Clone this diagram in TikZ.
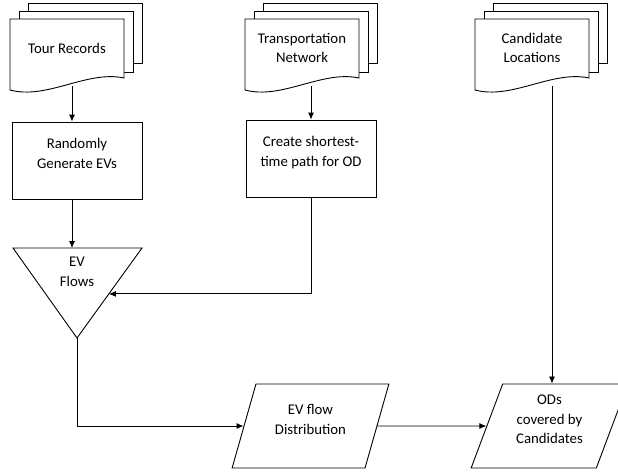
\documentclass[tikz,border=0pt]{standalone}
\usepackage{fontspec}
\setmainfont{Carlito}
\usetikzlibrary{shapes.geometric,arrows.meta,calc}

\begin{document}
\begin{tikzpicture}[x=1pt,y=-1pt,
                line width=0.9pt,
                font=\fontsize{14.8}{19.5}\selectfont,
                doc/.style = {align=center, minimum width=114pt, minimum height=76pt, inner sep=0pt},
                proc/.style = {draw, align=center, minimum width=130pt, minimum height=77pt,
                               inner sep=0pt, text depth=14pt},
                io/.style = {draw, trapezium, trapezium left angle=70, trapezium right angle=110,
                             trapezium stretches, align=center, minimum width=157pt,
                             minimum height=84pt, inner sep=0pt, text depth=13pt},
                arr/.style = {-{Latex[length=7pt,width=6pt]}}
            ]
            \useasboundingbox (0,0) rectangle (618,474);
            % stacked documents
            \foreach \cx in {67,302,532} {
                \begin{scope}[shift={(\cx,48)}]
                    \draw[fill=white] (-39,-45) rectangle (75,15);
                    \draw[fill=white] (-48,-37) rectangle (66,24);
                    \draw[fill=white] (-57,-29) -- (57,-29) -- (57,30)
                        .. controls (20,22) and (-20,52) .. (-57,42) -- cycle;
                \end{scope}
            }
            \node[doc] (tour) at (67,48) {Tour Records};
            \node[doc] (net) at (302,48) {Transportation\\Network};
            \node[doc] (cand) at (532,48) {Candidate\\Locations};

            \node[proc] (rand) at (77,160.5) {Randomly\\Generate EVs};
            \node[proc] (path) at (311,158.5) {Create shortest-\\time path for OD};

            % merge triangle
            \coordinate (fl-l) at (13,248);
            \coordinate (fl-r) at (142,248);
            \coordinate (fl-apex) at (77,338);
            \draw (fl-l) -- (fl-r) -- (fl-apex) -- cycle;
            \node[align=center, inner sep=0pt] (flows) at (77,272) {EV\\Flows};
            \coordinate (fl-in) at ($(fl-r)!0.51!(fl-apex)$);

            \node[io] (dist) at (310.5,426) {EV flow\\Distribution};
            \node[io] (ods) at (549.5,426) {ODs\\covered by\\Candidates};

            \draw[arr] ([xshift=5pt]tour.south) -- ([xshift=-5pt]rand.north);
            \draw[arr] ([xshift=-5pt]rand.south) -- ([xshift=-5pt]rand.south |- fl-l);
            \draw[arr] ([xshift=9pt]net.south) -- (path.north);
            \draw[arr] (path.south) |- (fl-in);
            \draw[arr] ([xshift=20pt]cand.south) -- ([xshift=20pt]cand.south |- ods.north);
            \draw[arr] (fl-apex) |- (dist);
            \draw[arr] (dist) -- (ods);
        \end{tikzpicture}
\end{document}
